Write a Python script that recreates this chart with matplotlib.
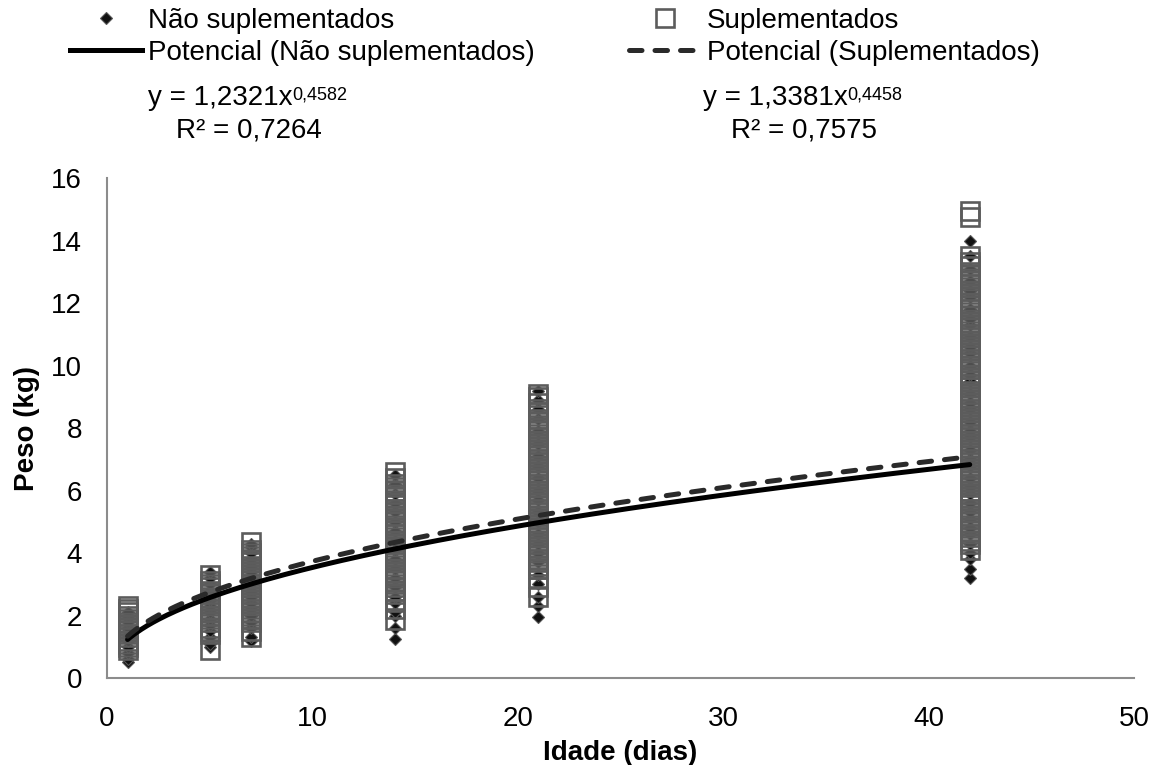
import numpy as np
import matplotlib
matplotlib.use("Agg")
import matplotlib.pyplot as plt
from matplotlib.lines import Line2D

plt.rcParams['font.family'] = ['Liberation Sans', 'DejaVu Sans']

# Ages (days) at which animals were weighed
ages = [1, 5, 7, 14, 21, 42]

# Weights (kg) - Não suplementados (diamonds)
nao_d1 = [0.5, 0.6, 0.8, 1.0, 1.2, 1.3, 1.5, 1.6, 1.8, 2.0, 2.1]
nao_d5 = [1.0, 1.1, 1.3, 1.5, 1.7, 1.9, 2.1, 2.3, 2.5, 2.6, 2.8, 3.0, 3.2, 3.4]
nao_d7 = [1.2, 1.3, 1.6, 1.8, 2.0, 2.2, 2.4, 2.6, 2.8, 3.0, 3.2, 3.4, 3.6,
          3.8, 4.0, 4.2, 4.3]
nao_d14 = [1.25, 1.6, 2.0, 2.1, 2.4, 2.6, 2.9, 3.2, 3.5, 3.8, 4.1, 4.4, 4.7,
           5.0, 5.3, 5.6, 5.9, 6.2, 6.5]
nao_d21 = [1.95, 2.3, 2.6, 3.0, 3.3, 3.7, 4.0, 4.3, 4.6, 5.0, 5.3, 5.7, 6.0,
           6.4, 6.8, 7.1, 7.5, 7.9, 8.3, 8.6, 8.9, 9.2]
nao_d42 = [3.2, 3.5, 3.8, 4.0, 4.3, 4.6, 4.8, 5.1, 5.3, 5.6, 5.9, 6.1, 6.4,
           6.8, 7.0, 7.3, 7.7, 7.9, 8.2, 8.6, 8.8, 9.1, 9.5, 9.7, 10.0,
           10.4, 10.6, 10.9, 11.3, 11.5, 11.8, 12.2, 12.4, 12.7, 13.1, 13.5,
           14.0]

# Weights (kg) - Suplementados (squares)
sup_d1 = [0.9, 1.0, 1.1, 1.2, 1.3, 1.4, 1.5, 1.6, 1.7, 1.8, 1.9, 2.0, 2.1,
          2.2, 2.3]
sup_d5 = [0.9, 1.4, 1.5, 1.6, 1.8, 1.9, 2.0, 2.1, 2.2, 2.3, 2.4, 2.5, 2.6,
          2.7, 2.8, 2.9, 3.0, 3.1, 3.3]
sup_d7 = [1.3, 1.5, 1.8, 1.9, 2.0, 2.1, 2.2, 2.3, 2.4, 2.5, 2.6, 2.7, 2.8,
          2.9, 3.0, 3.1, 3.2, 3.3, 3.4, 3.5, 3.6, 3.7, 3.8, 3.9, 4.0, 4.1,
          4.35]
sup_d14 = [1.85, 2.2, 2.5, 2.7, 2.8, 2.9, 3.0, 3.1, 3.2, 3.3, 3.4, 3.5, 3.7,
           3.8, 3.9, 4.0, 4.1, 4.2, 4.3, 4.4, 4.6, 4.7, 4.8, 4.9, 5.0, 5.1,
           5.2, 5.3, 5.4, 5.6, 5.7, 5.8, 5.9, 6.0, 6.1, 6.2, 6.4, 6.6]
sup_d21 = [2.6, 2.9, 3.2, 3.5, 3.6, 3.7, 3.8, 3.9, 4.0, 4.1, 4.2, 4.3, 4.4,
           4.5, 4.6, 4.7, 4.8, 4.9, 5.0, 5.1, 5.2, 5.3, 5.4, 5.5, 5.6, 5.7,
           5.8, 5.9, 6.0, 6.1, 6.2, 6.3, 6.4, 6.5, 6.6, 6.7, 6.8, 6.9, 7.0,
           7.1, 7.2, 7.3, 7.4, 7.5, 7.6, 7.7, 7.8, 7.9, 8.0, 8.1, 8.2, 8.3,
           8.5, 8.6, 8.8, 9.0, 9.1]
sup_d42 = [4.1, 4.3, 4.4, 4.5, 4.6, 4.7, 4.8, 4.9, 5.0, 5.1, 5.2, 5.3, 5.4,
           5.6, 5.7, 5.8, 5.9, 6.0, 6.1, 6.2, 6.3, 6.4, 6.5, 6.6, 6.7, 6.8,
           6.9, 7.0, 7.1, 7.2, 7.3, 7.4, 7.5, 7.6, 7.7, 7.8, 7.9, 8.0, 8.1,
           8.2, 8.3, 8.4, 8.5, 8.6, 8.7, 8.8, 8.9, 9.0, 9.1, 9.2, 9.3, 9.4,
           9.5, 9.6, 9.7, 9.9, 10.0, 10.1, 10.2, 10.3, 10.4, 10.5, 10.6, 10.7,
           10.8, 10.9, 11.0, 11.1, 11.2, 11.3, 11.4, 11.5, 11.6, 11.8, 11.9,
           12.0, 12.2, 12.3, 12.4, 12.5, 12.6, 12.7, 12.8, 12.9, 13.0, 13.2,
           13.3, 13.5, 14.75, 14.95]

nao_by_age = [nao_d1, nao_d5, nao_d7, nao_d14, nao_d21, nao_d42]
sup_by_age = [sup_d1, sup_d5, sup_d7, sup_d14, sup_d21, sup_d42]

# Power trendlines shown on the chart: y = a * x^b
nao_a, nao_b = 1.2321, 0.4582
sup_a, sup_b = 1.3381, 0.4458
nao_eq = ("y = 1,2321x", "0,4582", "R² = 0,7264")
sup_eq = ("y = 1,3381x", "0,4458", "R² = 0,7575")

nao_x = np.concatenate([[a] * len(v) for a, v in zip(ages, nao_by_age)])
nao_y = np.concatenate(nao_by_age)
sup_x = np.concatenate([[a] * len(v) for a, v in zip(ages, sup_by_age)])
sup_y = np.concatenate(sup_by_age)

fig = plt.figure(figsize=(11.56, 7.65), dpi=100)
ax = fig.add_axes([0.0926, 0.1137, 0.8884, 0.6536])

diamond_style = dict(marker='D', ms=6.5, mfc='#111111', mec='#555555',
                     mew=0.8, linestyle='none')
square_style = dict(marker='s', ms=12.6, mfc='none', mec='#5c5c5c',
                    mew=1.9, linestyle='none')
dash_style = dict(color='#2a2a2a', lw=3.6, linestyle=(0, (2.5, 2.6)),
                  dash_capstyle='round')

ax.plot(nao_x, nao_y, zorder=2, **diamond_style)
ax.plot(sup_x, sup_y, zorder=3, **square_style)

# Trendlines
xs = np.linspace(min(ages), max(ages), 300)
ax.plot(xs, nao_a * xs ** nao_b, color='black', lw=3.6,
        solid_capstyle='round', zorder=4)
ax.plot(xs, sup_a * xs ** sup_b, zorder=4, **dash_style)

ax.set_xlim(0, 50)
ax.set_ylim(0, 16)
ax.set_xticks(range(0, 51, 10))
ax.set_yticks(range(0, 17, 2))
ax.tick_params(length=0, labelsize=20)
ax.tick_params(axis='y', pad=18)
ax.tick_params(axis='x', pad=20)
for side in ('top', 'right'):
    ax.spines[side].set_visible(False)
for side in ('left', 'bottom'):
    ax.spines[side].set_color('#8c8c8c')
    ax.spines[side].set_linewidth(1.5)

ax.set_xlabel("Idade (dias)", fontsize=20, fontweight='bold', labelpad=6)
ax.set_ylabel("Peso (kg)", fontsize=20, fontweight='bold', labelpad=8)

# Legend across the top (Excel-style)
handles = [
    Line2D([], [], **diamond_style),
    Line2D([], [], color='black', lw=3.6),
    Line2D([], [], **square_style),
    Line2D([], [], **dash_style),
]
labels = ["Não suplementados", "Potencial (Não suplementados)",
          "Suplementados", "Potencial (Suplementados)"]
fig.legend(handles, labels, ncol=2, loc='upper left',
           bbox_to_anchor=(0.058, 0.993), frameon=False, fontsize=20,
           handlelength=2.6, handletextpad=0.2, columnspacing=3.4,
           labelspacing=0.2, borderpad=0.1, borderaxespad=0.0)

# Trendline equations
for (eq, sup, r2), x_eq, x_r2 in [(nao_eq, 0.128, 0.152),
                                  (sup_eq, 0.608, 0.632)]:
    t = fig.text(x_eq, 0.872, eq, fontsize=20, va='center', ha='left')
    ax.annotate(sup, xy=(1.0, 0.92), xycoords=t, fontsize=13,
                va='top', ha='left', annotation_clip=False)
    fig.text(x_r2, 0.830, r2, fontsize=20, va='center', ha='left')

fig.savefig("out.png", dpi=100)
